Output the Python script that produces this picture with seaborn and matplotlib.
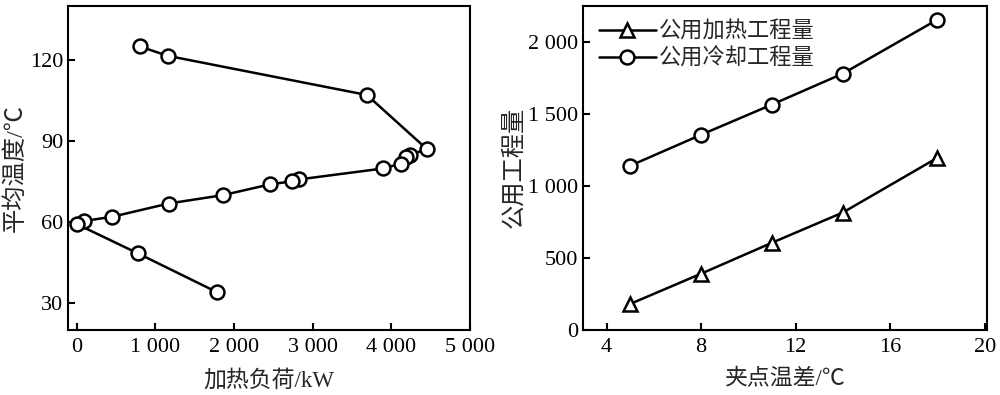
import matplotlib
matplotlib.use("Agg")
import matplotlib.pyplot as plt
import seaborn as sns
import pandas as pd
from matplotlib.ticker import FuncFormatter

# left panel: heating load vs mean temperature (path order kept)
load_kw = [800, 1160, 3690, 4450, 4240, 4190, 4120, 3900, 2820, 2735, 2460,
           1860, 1170, 455, 90, 0, 780, 1780]
mean_temp = [125, 121.5, 107, 87, 84.8, 84.0, 81.6, 79.8, 75.7, 75.0, 73.9,
             69.9, 66.8, 61.9, 60.3, 59.2, 48.3, 34]

# right panel: utilities vs pinch temperature difference
pinch_dt = [5, 8, 11, 14, 18]
hot_utility = [180, 390, 605, 815, 1195]
cold_utility = [1140, 1355, 1565, 1780, 2155]

sns.set_theme(style="ticks")
fam = ['Liberation Serif', 'Noto Sans CJK SC', 'DejaVu Sans']
plt.rcParams['font.family'] = fam
plt.rcParams['axes.linewidth'] = 1.5
plt.rcParams['axes.edgecolor'] = 'black'

fig = plt.figure(figsize=(10, 3.95), dpi=100)
ax1 = fig.add_axes([0.068, 0.165, 0.402, 0.82])
ax2 = fig.add_axes([0.583, 0.165, 0.404, 0.82])

mk = dict(markersize=10, markerfacecolor='white', markeredgecolor='black',
          markeredgewidth=1.8, color='black', linewidth=1.8)

df1 = pd.DataFrame({'load': load_kw, 'temp': mean_temp})
sns.lineplot(data=df1, x='load', y='temp', sort=False, marker='o', ax=ax1, **mk)
ax1.set_xlim(-110, 5000)
ax1.set_ylim(20, 140)
ax1.set_xticks([0, 1000, 2000, 3000, 4000, 5000])
ax1.set_yticks([30, 60, 90, 120])
ax1.set_xlabel('加热负荷/kW', fontsize=16.5, labelpad=9)
ax1.set_ylabel('平均温度/℃', fontsize=17.5, labelpad=2)

df2 = pd.DataFrame({'dt': pinch_dt, '公用加热工程量': hot_utility, '公用冷却工程量': cold_utility})
sns.lineplot(data=df2, x='dt', y='公用加热工程量', marker='^', ax=ax2, label='公用加热工程量', **mk)
sns.lineplot(data=df2, x='dt', y='公用冷却工程量', marker='o', ax=ax2, label='公用冷却工程量', **mk)
ax2.set_xlim(3, 20.1)
ax2.set_ylim(0, 2250)
ax2.set_xticks([4, 8, 12, 16, 20])
ax2.set_yticks([0, 500, 1000, 1500, 2000])
ax2.set_xlabel('夹点温差/℃', fontsize=16.5, labelpad=9)
ax2.set_ylabel('公用工程量', fontsize=17.5, labelpad=2)
leg = ax2.legend(loc='upper left', frameon=False, fontsize=16, handlelength=2.6,
                 handletextpad=0.1, borderaxespad=0.3, labelspacing=0.25)

fmt = FuncFormatter(lambda v, p: f'{int(v):,}'.replace(',', ' '))
for ax in (ax1, ax2):
    ax.xaxis.set_major_formatter(fmt)
    ax.yaxis.set_major_formatter(fmt)
    ax.tick_params(direction='in', length=5, width=1.5, labelsize=16, colors='black')
    ax.tick_params(axis='x', pad=6)
    for s in ax.spines.values():
        s.set_visible(True)
        s.set_linewidth(1.5)

fig.savefig('out.png', dpi=100)
